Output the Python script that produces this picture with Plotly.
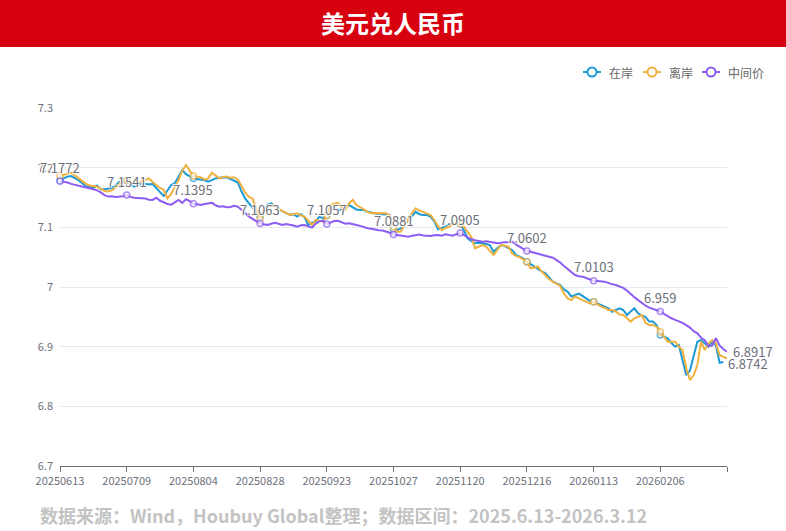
import pandas as pd
import plotly.graph_objects as go

# ---------------- data ----------------
start_date = "2025-06-13"
end_date = "2026-03-12"
holidays = ["2025-10-01", "2025-10-02", "2025-10-03", "2025-10-06", "2025-10-07", "2025-10-08",
            "2026-01-01", "2026-01-02",
            "2026-02-16", "2026-02-17", "2026-02-18", "2026-02-19", "2026-02-20", "2026-02-23"]

tick_labels = ["20250613", "20250709", "20250804", "20250828", "20250923",
               "20251027", "20251120", "20251216", "20260113", "20260206"]

onshore = [  # 在岸
    7.1790, 7.1820, 7.1850, 7.1860, 7.1830, 7.1790, 7.1740, 7.1690, 7.1680, 7.1660,
    7.1700, 7.1637, 7.1640, 7.1650, 7.1660, 7.1700, 7.1765, 7.1760, 7.1780, 7.1720,
    7.1680, 7.1700, 7.1726, 7.1730, 7.1720, 7.1726, 7.1650, 7.1590, 7.1525, 7.1620,
    7.1710, 7.1740, 7.1850, 7.1960, 7.1890, 7.1850, 7.1820, 7.1810, 7.1805, 7.1790,
    7.1765, 7.1790, 7.1820, 7.1830, 7.1840, 7.1840, 7.1810, 7.1780, 7.1750, 7.1600,
    7.1480, 7.1400, 7.1320, 7.1250, 7.1180, 7.1290, 7.1380, 7.1400, 7.1360, 7.1300,
    7.1270, 7.1235, 7.1210, 7.1220, 7.1180, 7.1220, 7.1168, 7.1040, 7.1080, 7.1095,
    7.1180, 7.1150, 7.1200, 7.1346, 7.1320, 7.1300, 7.1290, 7.1320, 7.1374, 7.1340,
    7.1300, 7.1290, 7.1290, 7.1260, 7.1246, 7.1230, 7.1220, 7.1220, 7.1215, 7.1207,
    7.0967, 7.0955, 7.0980, 7.1050, 7.1123, 7.1200, 7.1260, 7.1220, 7.1207, 7.1207,
    7.1180, 7.1100, 7.0967, 7.0990, 7.1010, 7.1050, 7.1068, 7.1068, 7.1060, 7.0950,
    7.0816, 7.0770, 7.0733, 7.0740, 7.0733, 7.0720, 7.0704, 7.0592, 7.0650, 7.0704,
    7.0687, 7.0650, 7.0620, 7.0537, 7.0510, 7.0480, 7.0424, 7.0380, 7.0340, 7.0300,
    7.0260, 7.0230, 7.0150, 7.0090, 7.0060, 7.0034, 6.9960, 6.9920, 6.9840, 6.9870,
    6.9890, 6.9850, 6.9810, 6.9770, 6.9754, 6.9727, 6.9700, 6.9670, 6.9643, 6.9586,
    6.9610, 6.9643, 6.9615, 6.9530, 6.9590, 6.9643, 6.9560, 6.9520, 6.9500, 6.9420,
    6.9420, 6.9363, 6.9196, 6.9170, 6.9140, 6.9060, 6.9000, 6.9028, 6.8777, 6.8525,
    6.8600, 6.8850, 6.9083, 6.9110, 6.9050, 6.9000, 6.9083, 6.9028, 6.8730, 6.8742,
]

offshore = [  # 离岸
    7.1860, 7.1880, 7.1900, 7.1916, 7.1870, 7.1820, 7.1770, 7.1730, 7.1700, 7.1690,
    7.1680, 7.1650, 7.1610, 7.1600, 7.1620, 7.1670, 7.1730, 7.1790, 7.1780, 7.1770,
    7.1750, 7.1738, 7.1770, 7.1800, 7.1820, 7.1760, 7.1710, 7.1660, 7.1626, 7.1487,
    7.1560, 7.1680, 7.1790, 7.1950, 7.2045, 7.1950, 7.1860, 7.1850, 7.1840, 7.1800,
    7.1820, 7.1916, 7.1860, 7.1820, 7.1840, 7.1850, 7.1830, 7.1840, 7.1800, 7.1700,
    7.1580, 7.1510, 7.1480, 7.1300, 7.1150, 7.1260, 7.1346, 7.1360, 7.1374, 7.1310,
    7.1280, 7.1240, 7.1207, 7.1220, 7.1235, 7.1200, 7.1180, 7.1110, 7.1040, 7.1123,
    7.1110, 7.1095, 7.1200, 7.1374, 7.1400, 7.1410, 7.1330, 7.1290, 7.1400, 7.1460,
    7.1374, 7.1330, 7.1300, 7.1260, 7.1235, 7.1240, 7.1235, 7.1230, 7.1235, 7.1200,
    7.1000, 7.0927, 7.0930, 7.1050, 7.1150, 7.1240, 7.1320, 7.1280, 7.1260, 7.1230,
    7.1207, 7.1123, 7.1020, 7.0955, 7.0990, 7.1010, 7.1060, 7.1095, 7.1060, 7.1010,
    7.0920, 7.0843, 7.0649, 7.0680, 7.0704, 7.0676, 7.0610, 7.0537, 7.0620, 7.0704,
    7.0690, 7.0676, 7.0565, 7.0520, 7.0500, 7.0460, 7.0424, 7.0313, 7.0330, 7.0340,
    7.0260, 7.0200, 7.0130, 7.0090, 7.0060, 7.0017, 6.9890, 6.9810, 6.9780, 6.9840,
    6.9810, 6.9780, 6.9750, 6.9727, 6.9754, 6.9710, 6.9670, 6.9650, 6.9615, 6.9615,
    6.9590, 6.9540, 6.9530, 6.9476, 6.9420, 6.9476, 6.9500, 6.9530, 6.9400, 6.9363,
    6.9363, 6.9335, 6.9250, 6.9160, 6.9083, 6.9083, 6.9083, 6.9000, 6.8944, 6.8638,
    6.8442, 6.8520, 6.8693, 6.9083, 6.8944, 6.9050, 6.9110, 6.9055, 6.8860, 6.8830,
    6.8805,
]

central = [  # 中间价
    7.1772, 7.1765, 7.1752, 7.1728, 7.1710, 7.1702, 7.1683, 7.1668, 7.1655, 7.1640,
    7.1620, 7.1585, 7.1540, 7.1515, 7.1522, 7.1508, 7.1512, 7.1520, 7.1541, 7.1510,
    7.1495, 7.1490, 7.1478, 7.1485, 7.1462, 7.1460, 7.1498, 7.1445, 7.1420, 7.1390,
    7.1380, 7.1425, 7.1460, 7.1410, 7.1470, 7.1440, 7.1395, 7.1385, 7.1374, 7.1390,
    7.1402, 7.1410, 7.1370, 7.1346, 7.1352, 7.1336, 7.1340, 7.1362, 7.1346, 7.1300,
    7.1240, 7.1180, 7.1140, 7.1090, 7.1063, 7.1050, 7.1040, 7.1060, 7.1078, 7.1060,
    7.1040, 7.1055, 7.1048, 7.1030, 7.1010, 7.1035, 7.1040, 7.1020, 7.0995, 7.1060,
    7.1100, 7.1110, 7.1057, 7.1080, 7.1105, 7.1110, 7.1085, 7.1060, 7.1070, 7.1050,
    7.1040, 7.1025, 7.1000, 7.0984, 7.0975, 7.0960, 7.0950, 7.0945, 7.0930, 7.0910,
    7.0881, 7.0870, 7.0860, 7.0850, 7.0843, 7.0860, 7.0870, 7.0880, 7.0865, 7.0858,
    7.0855, 7.0868, 7.0872, 7.0860, 7.0883, 7.0870, 7.0860, 7.0885, 7.0905, 7.0870,
    7.0830, 7.0800, 7.0785, 7.0770, 7.0760, 7.0765, 7.0760, 7.0745, 7.0733, 7.0745,
    7.0752, 7.0750, 7.0760, 7.0715, 7.0676, 7.0640, 7.0602, 7.0590, 7.0575, 7.0560,
    7.0536, 7.0520, 7.0505, 7.0490, 7.0450, 7.0410, 7.0350, 7.0297, 7.0250, 7.0200,
    7.0180, 7.0173, 7.0150, 7.0120, 7.0103, 7.0100, 7.0095, 7.0090, 7.0070, 7.0045,
    7.0034, 7.0010, 6.9985, 6.9940, 6.9880, 6.9830, 6.9780, 6.9727, 6.9690, 6.9655,
    6.9635, 6.9610, 6.9590, 6.9550, 6.9510, 6.9476, 6.9450, 6.9425, 6.9400, 6.9360,
    6.9320, 6.9260, 6.9224, 6.9150, 6.9110, 6.9010, 6.9020, 6.9140, 6.9020, 6.8960,
    6.8917,
]

y_ticks = [6.7, 6.8, 6.9, 7.0, 7.1, 7.2, 7.3]
y_tick_text = ["6.7", "6.8", "6.9", "7", "7.1", "7.2", "7.3"]

# ---------------- categories ----------------
days = pd.bdate_range(start_date, end_date)
days = days[~days.isin(pd.to_datetime(holidays))]
cats = [d.strftime("%Y%m%d") for d in days]
n = len(cats)
step = 18

C_ON = "#1d9ad6"
C_OFF = "#f0b13f"
C_MID = "#8d5cf2"
FONT = "Noto Sans CJK SC"

# plot-area geometry (pixels) for paper-coordinate helpers
L, R, T, B = 60, 59, 108, 65
W, H = 786, 531
PW, PH = W - L - R, H - T - B


def px(xp):
    return (xp - L) / PW


def py(yp):
    return (H - B - yp) / PH


def sizes(length):
    return [6 if (i % step == 0 and i < n - 1) else 0 for i in range(length)]


fig = go.Figure()
series = [("在岸", onshore, C_ON), ("离岸", offshore, C_OFF), ("中间价", central, C_MID)]
for name, vals, col in series:
    fig.add_trace(go.Scatter(
        x=cats[:len(vals)], y=vals, name=name, mode="lines+markers",
        line=dict(color=col, width=2),
        marker=dict(size=sizes(len(vals)), color="white", line=dict(color=col, width=1.5)),
        cliponaxis=False, showlegend=False,
    ))

halo = "1px 1px 1px #fff, -1px -1px 1px #fff, 1px -1px 1px #fff, -1px 1px 1px #fff"
lab_font = dict(size=13, color="#6e7079", family=FONT, shadow=halo)

annotations = []
shapes = [dict(type="rect", xref="paper", yref="paper", x0=-0.2, x1=1.2,
               y0=py(47), y1=1.4, fillcolor="#d7000f", line=dict(width=0), layer="above")]

# value labels on the central parity at every shown symbol (x given as category index)
for i in range(0, len(central) - 1, step):
    annotations.append(dict(x=i, y=central[i], xref="x", yref="y", text=f"{central[i]:g}",
                            showarrow=False, xanchor="center", yanchor="middle", yshift=14,
                            font=lab_font))
# end labels
annotations.append(dict(x=len(central) - 1, y=central[-1], xref="x", yref="y",
                        text=f"{central[-1]:g}", showarrow=False, xanchor="left",
                        yanchor="middle", xshift=4, font=lab_font))
annotations.append(dict(x=len(onshore) - 1, y=onshore[-1], xref="x", yref="y",
                        text=f"{onshore[-1]:g}", showarrow=False, xanchor="left",
                        yanchor="middle", xshift=3, yshift=-1, font=lab_font))

# hand-drawn legend (line + hollow circle + label)
leg_x = [583, 643, 702]
leg_y = 72
for (name, _, col), lx in zip(series, leg_x):
    shapes.append(dict(type="line", xref="paper", yref="paper", x0=px(lx), x1=px(lx + 18),
                       y0=py(leg_y), y1=py(leg_y), line=dict(color=col, width=2)))
    shapes.append(dict(type="circle", xref="paper", yref="paper", x0=px(lx + 4.5), x1=px(lx + 13.5),
                       y0=py(leg_y + 4.5), y1=py(leg_y - 4.5), fillcolor="white",
                       line=dict(color=col, width=2)))
    annotations.append(dict(x=px(lx + 24), y=py(leg_y), xref="paper", yref="paper", text=name,
                            showarrow=False, xanchor="left", yanchor="middle",
                            font=dict(size=12, color="#666666", family=FONT)))

annotations.append(dict(text="<b>美元兑人民币</b>", xref="paper", yref="paper",
                        x=px(393), y=py(23), xanchor="center", yanchor="middle",
                        showarrow=False, font=dict(size=24, color="white", family=FONT)))
annotations.append(dict(text="<b>数据来源：Wind，Houbuy Global整理；数据区间：2025.6.13-2026.3.12</b>",
                        xref="paper", yref="paper", x=px(38), y=py(515),
                        xanchor="left", yanchor="middle", showarrow=False,
                        font=dict(size=18, color="#c3c3c3", family=FONT)))

tickvals = [cats[i] for i in range(0, n, step)]
ticktext = [tick_labels[k] if k < len(tick_labels) else "" for k in range(len(tickvals))]

fig.update_layout(
    width=W, height=H,
    margin=dict(l=L, r=R, t=T, b=B),
    paper_bgcolor="white", plot_bgcolor="white",
    font=dict(family=FONT, color="#6e7079", size=11),
    showlegend=False,
    xaxis=dict(type="category", categoryorder="array", categoryarray=cats,
               range=[0, n - 1], tickmode="array", tickvals=tickvals, ticktext=ticktext,
               showgrid=False, showline=True, linecolor="#6e7079", linewidth=1,
               ticks="outside", ticklen=5, tickcolor="#6e7079",
               tickfont=dict(size=11, color="#6e7079"), zeroline=False),
    yaxis=dict(range=[6.7, 7.3], tickmode="array", tickvals=y_ticks, ticktext=y_tick_text,
               showgrid=True, gridcolor="#e6e9f4", gridwidth=1, zeroline=False,
               showline=False, ticks="", ticklabelstandoff=6,
               tickfont=dict(size=11, color="#6e7079")),
    shapes=shapes,
    annotations=annotations,
)

fig.write_html("out.html", config={"displayModeBar": False},
               post_script="document.body.style.margin='0px';document.body.style.overflow='hidden';")
